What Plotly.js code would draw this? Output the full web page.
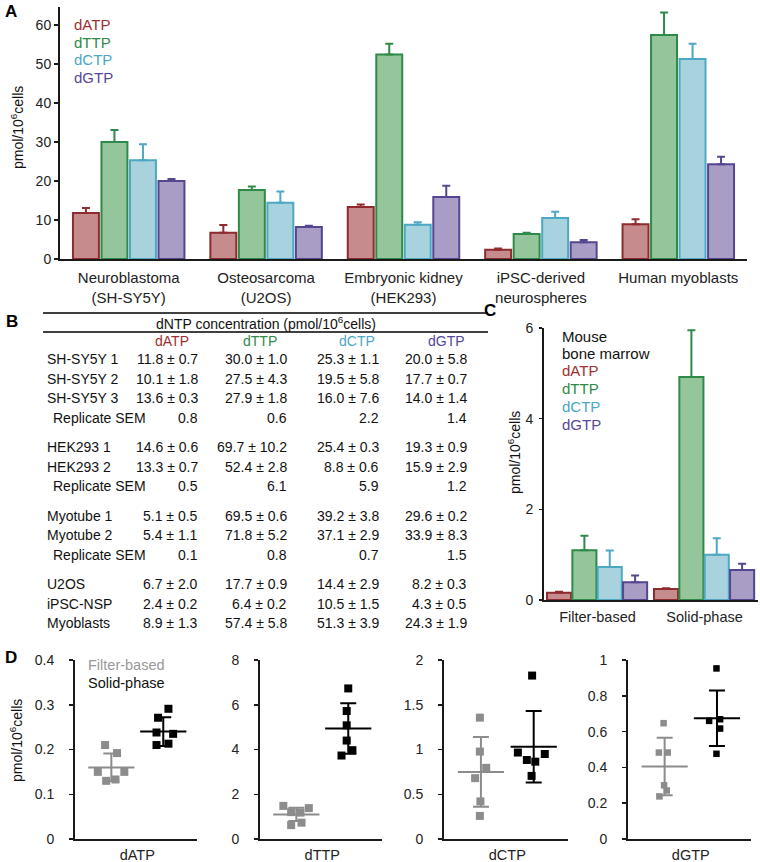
<!DOCTYPE html>
<html>
<head>
<meta charset="utf-8">
<script src="https://cdn.plot.ly/plotly-3.0.1.min.js"></script>
<style>
  body { margin: 0; background: #fff; }
  #fig { width: 760px; height: 862px; }
</style>
</head>
<body>
<div id="fig"></div>
<script>
// ---- panel A: dNTP levels in human cell types ----
var aCats = ['Neuroblastoma<br>(SH-SY5Y)', 'Osteosarcoma<br>(U2OS)', 'Embryonic kidney<br>(HEK293)', 'iPSC-derived<br>neurospheres', 'Human myoblasts'];
var aATP = [11.8, 6.7, 13.3, 2.4, 8.9];
var aATPerr = [1.3, 2.0, 0.7, 0.3, 1.3];
var aTTP = [30.0, 17.7, 52.4, 6.4, 57.4];
var aTTPerr = [3.1, 0.9, 2.8, 0.3, 5.8];
var aCTP = [25.3, 14.4, 8.8, 10.5, 51.3];
var aCTPerr = [4.1, 2.9, 0.6, 1.6, 3.9];
var aGTP = [20.0, 8.2, 15.9, 4.3, 24.3];
var aGTPerr = [0.5, 0.3, 2.9, 0.6, 1.9];

// ---- panel B: table ----
var tblRows = ['SH-SY5Y 1', 'SH-SY5Y 2', 'SH-SY5Y 3', 'Replicate SEM', 'HEK293 1', 'HEK293 2', 'Replicate SEM',
  'Myotube 1', 'Myotube 2', 'Replicate SEM', 'U2OS', 'iPSC-NSP', 'Myoblasts'];
var tblATP = ['11.8 ± 0.7', '10.1 ± 1.8', '13.6 ± 0.3', '0.8', '14.6 ± 0.6', '13.3 ± 0.7', '0.5',
  '5.1 ± 0.5', '5.4 ± 1.1', '0.1', '6.7 ± 2.0', '2.4 ± 0.2', '8.9 ± 1.3'];
var tblTTP = ['30.0 ± 1.0', '27.5 ± 4.3', '27.9 ± 1.8', '0.6', '69.7 ± 10.2', '52.4 ± 2.8', '6.1',
  '69.5 ± 0.6', '71.8 ± 5.2', '0.8', '17.7 ± 0.9', '6.4 ± 0.2', '57.4 ± 5.8'];
var tblCTP = ['25.3 ± 1.1', '19.5 ± 5.8', '16.0 ± 7.6', '2.2', '25.4 ± 0.3', '8.8 ± 0.6', '5.9',
  '39.2 ± 3.8', '37.1 ± 2.9', '0.7', '14.4 ± 2.9', '10.5 ± 1.5', '51.3 ± 3.9'];
var tblGTP = ['20.0 ± 5.8', '17.7 ± 0.7', '14.0 ± 1.4', '1.4', '19.3 ± 0.9', '15.9 ± 2.9', '1.2',
  '29.6 ± 0.2', '33.9 ± 8.3', '1.5', '8.2 ± 0.3', '4.3 ± 0.5', '24.3 ± 1.9'];
var tblGroup = [0, 0, 0, 0, 1, 1, 1, 2, 2, 2, 3, 3, 3];

// ---- panel C: mouse bone marrow ----
var cCats = ['Filter-based', 'Solid-phase'];
var cATP = [0.16, 0.24];
var cATPerr = [0.02, 0.02];
var cTTP = [1.10, 4.92];
var cTTPerr = [0.32, 1.03];
var cCTP = [0.73, 1.00];
var cCTPerr = [0.36, 0.36];
var cGTP = [0.39, 0.66];
var cGTPerr = [0.15, 0.14];

// ---- panel D: individual samples (x = jitter around group) ----
var dNames = ['dATP', 'dTTP', 'dCTP', 'dGTP'];
var dFilterY = [
  [0.21, 0.192, 0.15, 0.15, 0.13, 0.133],
  [1.48, 1.38, 1.2, 1.18, 0.62, 0.73],
  [1.356, 0.977, 0.795, 0.68, 0.42, 0.258],
  [0.647, 0.483, 0.483, 0.30, 0.271, 0.238]
];
var dFilterJit = [
  [-0.12, 0.11, -0.26, 0.25, -0.1, 0.08],
  [-0.25, 0.24, -0.1, 0.08, -0.1, 0.1],
  [-0.02, -0.02, 0.1, -0.11, -0.01, -0.02],
  [-0.02, -0.11, 0.06, -0.01, 0.04, -0.1]
];
var dSolidY = [
  [0.271, 0.291, 0.238, 0.235, 0.21, 0.213],
  [6.73, 5.72, 5.08, 4.4, 3.73, 3.97],
  [1.826, 0.966, 0.883, 0.864, 0.95, 0.705],
  [0.953, 0.66, 0.669, 0.617, 0.476]
];
var dSolidJit = [
  [-0.1, 0.1, -0.13, 0.19, -0.13, 0.1],
  [0, -0.03, -0.03, -0.03, -0.13, 0.08],
  [-0.03, -0.3, -0.13, 0.03, 0.21, -0.04],
  [-0.01, -0.15, 0.06, 0.06, -0.01]
];
var dFilterMean = [0.16, 1.1, 0.75, 0.405];
var dFilterSD = [0.031, 0.3, 0.39, 0.16];
var dSolidMean = [0.24, 4.94, 1.03, 0.675];
var dSolidSD = [0.032, 1.13, 0.4, 0.155];
var dYMax = [0.4, 8, 2, 1];
var dTicks = [[0, 0.1, 0.2, 0.3, 0.4], [0, 2, 4, 6, 8], [0, 0.5, 1, 1.5, 2], [0, 0.2, 0.4, 0.6, 0.8, 1]];

var ntNames = ['dATP', 'dTTP', 'dCTP', 'dGTP'];
var fills = ['#c58b8d', '#94c59b', '#a8d2de', '#a99dc6'];
var edges = ['#8e2b2e', '#2e8a48', '#4ea8c4', '#54468f'];
var txtCol = ['#9e2f30', '#2e8b47', '#4aa7c5', '#55479b'];
var gray = '#8c8c8c';
var FONT = 'Liberation Sans, Arial, sans-serif';

function fx(p) { return p / 760; }
function fy(p) { return 1 - p / 862; }

var data = [];
var aVals = [aATP, aTTP, aCTP, aGTP];
var aErrs = [aATPerr, aTTPerr, aCTPerr, aGTPerr];
var cVals = [cATP, cTTP, cCTP, cGTP];
var cErrs = [cATPerr, cTTPerr, cCTPerr, cGTPerr];

for (var i = 0; i < 4; i++) {
  data.push({
    type: 'bar', x: aCats, y: aVals[i], xaxis: 'x', yaxis: 'y', name: ntNames[i],
    marker: {color: fills[i], line: {color: edges[i], width: 2}},
    error_y: {type: 'data', array: aErrs[i], arrayminus: [0, 0, 0, 0, 0], symmetric: false,
      color: edges[i], thickness: 2, width: 4}
  });
}
for (var i = 0; i < 4; i++) {
  data.push({
    type: 'bar', x: cCats, y: cVals[i], xaxis: 'x2', yaxis: 'y2', name: ntNames[i],
    width: 0.225, offset: -0.472 + i * 0.237,
    marker: {color: fills[i], line: {color: edges[i], width: 2}},
    error_y: {type: 'data', array: cErrs[i], arrayminus: [0, 0], symmetric: false,
      color: edges[i], thickness: 2, width: 4}
  });
}

for (var k = 0; k < 4; k++) {
  var xa = 'x' + (k + 3), ya = 'y' + (k + 3);
  var groups = [
    {jit: dFilterJit[k], y: dFilterY[k], c: gray, pos: 1, m: dFilterMean[k], sd: dFilterSD[k]},
    {jit: dSolidJit[k], y: dSolidY[k], c: '#000', pos: 2, m: dSolidMean[k], sd: dSolidSD[k]}
  ];
  groups.forEach(function (g) {
    data.push({
      type: 'scatter', mode: 'markers', xaxis: xa, yaxis: ya,
      x: g.jit.map(function (j) { return g.pos + j; }), y: g.y,
      marker: {symbol: 'square', size: k === 3 ? 6.5 : 8, color: g.c}
    });
    // mean line + SD whiskers
    data.push({
      type: 'scatter', mode: 'markers', xaxis: xa, yaxis: ya,
      x: [g.pos], y: [g.m],
      marker: {symbol: 'line-ew', size: 33, color: g.c, line: {color: g.c, width: 2}},
      error_y: {type: 'data', array: [g.sd], color: g.c, thickness: 2, width: 8}
    });
  });
}

var axLine = {showline: true, linecolor: '#1a1a1a', linewidth: 2, showgrid: false, zeroline: false,
  tickfont: {family: FONT, size: 14, color: '#222'}};
function ax(extra) { return Object.assign({}, axLine, extra); }

var catFont = {family: FONT, size: 15, color: '#222'};

var layout = {
  width: 760, height: 862,
  margin: {l: 0, r: 0, t: 0, b: 0},
  paper_bgcolor: '#fff', plot_bgcolor: '#fff',
  showlegend: false,
  barmode: 'group', bargap: 0.17, bargroupgap: 0.09,
  font: {family: FONT, size: 14, color: '#222'},
  xaxis: ax({domain: [fx(60), fx(747)], anchor: 'y', type: 'category', ticks: '', ticklabelstandoff: 4,
    tickfont: catFont}),
  yaxis: ax({domain: [fy(259), fy(7)], anchor: 'x', range: [0, 64.6], tickvals: [0, 10, 20, 30, 40, 50, 60],
    ticks: 'outside', ticklen: 4, tickwidth: 1.5, tickcolor: '#1a1a1a'}),
  xaxis2: ax({domain: [fx(544), fx(758)], anchor: 'y2', type: 'category', ticks: '', ticklabelstandoff: 3,
    tickfont: {family: FONT, size: 14.5, color: '#222'}}),
  yaxis2: ax({domain: [fy(600), fy(328)], anchor: 'x2', range: [0, 6], tickvals: [0, 2, 4, 6],
    ticks: 'outside', ticklen: 3, tickwidth: 1.5, tickcolor: '#1a1a1a', ticklabelstandoff: 3}),
  annotations: [], shapes: []
};

var dDom = [[75, 197], [260, 382], [444, 568], [628, 751]];
for (var k = 0; k < 4; k++) {
  layout['xaxis' + (k + 3)] = ax({domain: [fx(dDom[k][0]), fx(dDom[k][1])], anchor: 'y' + (k + 3),
    range: [0.3, 2.65], tickvals: [1.5], ticktext: [dNames[k]], ticks: '', ticklabelstandoff: 2,
    tickfont: {family: FONT, size: 14.5, color: '#222'}});
  layout['yaxis' + (k + 3)] = ax({domain: [fy(839), fy(660)], anchor: 'x' + (k + 3),
    range: [0, dYMax[k]], tickvals: dTicks[k], ticks: 'outside', ticklen: 4, tickwidth: 1.5,
    tickcolor: '#1a1a1a', ticklabelstandoff: 12});
}

var ann = layout.annotations;
function txt(x, y, s, opt) {
  ann.push(Object.assign({xref: 'paper', yref: 'paper', x: fx(x), y: fy(y), text: s, showarrow: false,
    xanchor: 'left', yanchor: 'middle', font: {family: FONT, size: 14, color: '#111'}}, opt || {}));
}

// panel letters
var letterFont = {family: FONT, size: 17, color: '#000'};
txt(3, 12, '<b>A</b>', {font: letterFont});
txt(4, 322, '<b>B</b>', {font: letterFont});
txt(482, 310, '<b>C</b>', {font: letterFont});
txt(3, 657, '<b>D</b>', {font: letterFont});

// y titles
var yt = 'pmol/10<sup>6</sup>cells';
txt(17, 128, yt, {xanchor: 'center', textangle: -90});
txt(514, 453, yt, {xanchor: 'center', textangle: -90});
txt(16, 741, yt, {xanchor: 'center', textangle: -90});

// legends A and C
for (var i = 0; i < 4; i++) {
  txt(72, 24.5 + i * 17.5, ntNames[i], {font: {family: FONT, size: 15, color: txtCol[i]}});
  txt(560, 371 + i * 17.8, ntNames[i], {font: {family: FONT, size: 15, color: txtCol[i]}});
}
txt(560, 336, 'Mouse', {font: {family: FONT, size: 15, color: '#111'}});
txt(560, 353.5, 'bone marrow', {font: {family: FONT, size: 15, color: '#111'}});

// legend D
txt(86, 665, 'Filter-based', {font: {family: FONT, size: 14.5, color: '#999'}});
txt(86, 683, 'Solid-phase', {font: {family: FONT, size: 14.5, color: '#111'}});

// table B
layout.shapes.push({type: 'line', xref: 'paper', yref: 'paper', x0: fx(43), x1: fx(488), y0: fy(313), y1: fy(313),
  line: {color: '#000', width: 1.6}});
layout.shapes.push({type: 'line', xref: 'paper', yref: 'paper', x0: fx(43), x1: fx(488), y0: fy(332), y1: fy(332),
  line: {color: '#000', width: 1.6}});
txt(266, 323, 'dNTP concentration (pmol/10<sup>6</sup>cells)', {xanchor: 'center'});
var colHead = [172, 260, 357, 446];
var colRight = [200, 289, 381, 469];
var tblCols = [tblATP, tblTTP, tblCTP, tblGTP];
for (var i = 0; i < 4; i++) {
  txt(colHead[i], 341, ntNames[i], {xanchor: 'center', font: {family: FONT, size: 14, color: txtCol[i]}});
}
for (var r = 0; r < tblRows.length; r++) {
  var y = 359 + r * 19.5 + tblGroup[r] * 10;
  var sem = tblRows[r] === 'Replicate SEM';
  txt(sem ? 51 : 45, y, tblRows[r]);
  for (var c = 0; c < 4; c++) {
    txt(colRight[c], y, tblCols[c][r], {xanchor: 'right'});
  }
}

Plotly.newPlot('fig', data, layout, {staticPlot: true});
</script>
</body>
</html>
